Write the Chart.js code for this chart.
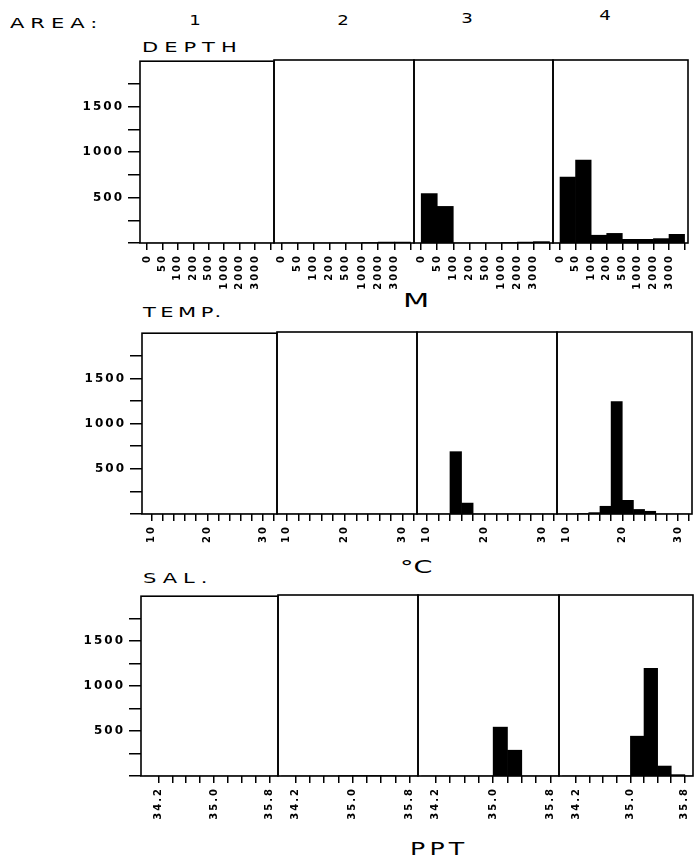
<!DOCTYPE html>
<html>
<head>
<meta charset="utf-8">
<script src="https://cdn.jsdelivr.net/npm/chart.js@4"></script>
<style>
body { margin: 0; background: #fff; }
#wrap { position: relative; width: 695px; height: 857px; overflow: hidden; background: #fff; }
canvas { position: absolute; }
.t { position: absolute; font-family: 'DejaVu Sans'; line-height: 1; white-space: nowrap; color: #000; transform-origin: 0 0; }
</style>
</head>
<body>
<div id="wrap">
  <div class="t" style="left:10px;top:16px;font-size:14px;letter-spacing:4px;transform:scaleX(1.5)">AREA:</div>
  <div class="t" style="left:142px;top:40px;font-size:14px;letter-spacing:4px;transform:scaleX(1.5)">DEPTH</div>
  <div class="t" style="left:143px;top:305px;font-size:14px;letter-spacing:3px;transform:scaleX(1.5)">TEMP.</div>
  <div class="t" style="left:143px;top:571px;font-size:14px;letter-spacing:4px;transform:scaleX(1.5)">SAL.</div>
  <div class="t" style="left:403px;top:291px;font-size:19px;transform:scaleX(1.6)">M</div>
  <div class="t" style="left:400px;top:558px;font-size:18px;transform:scaleX(1.5)">°C</div>
  <div class="t" style="left:410px;top:840px;font-size:18px;letter-spacing:3px;transform:scaleX(1.4)">PPT</div>
</div>
<script>
const areaLabels = ['1', '2', '3', '4'];

// y axis: counts
const yTicks = [0, 250, 500, 750, 1000, 1250, 1500, 1750];
const yTickLabels = ['', '', '500', '', '1000', '', '1500', ''];

// depth (m), bins between the labelled edges
const depthTicks = [0, 1, 2, 3, 4, 5, 6, 7, 8];
const depthTickLabels = ['0', '50', '100', '200', '500', '1000', '2000', '3000', ''];
const depthBinCenters = [0.5, 1.5, 2.5, 3.5, 4.5, 5.5, 6.5, 7.5];
const depthCounts = [
  [0, 0, 0, 0, 0, 0, 0, 0],
  [0, 0, 0, 0, 0, 5, 10, 10],
  [540, 400, 0, 0, 0, 5, 10, 15],
  [720, 905, 85, 105, 40, 40, 48, 95]
];

// temperature (deg C), 2 degree bins from 8 to 32
const tempTicks = [10, 12, 14, 16, 18, 20, 22, 24, 26, 28, 30, 32];
const tempTickLabels = ['10', '', '', '', '', '20', '', '', '', '', '30', ''];
const tempBinCenters = [9, 11, 13, 15, 17, 19, 21, 23, 25, 27, 29, 31];
const tempCounts = [
  [0, 0, 0, 0, 0, 0, 0, 0, 0, 0, 0, 0],
  [0, 0, 0, 0, 0, 0, 0, 0, 0, 0, 0, 0],
  [0, 0, 0, 685, 120, 0, 0, 0, 0, 0, 0, 0],
  [0, 0, 5, 15, 85, 1235, 150, 50, 30, 0, 0, 0]
];

// salinity (ppt), 0.2 bins from 34.0
const salTicks = [34.2, 34.4, 34.6, 34.8, 35.0, 35.2, 35.4, 35.6, 35.8];
const salTickLabels = ['34.2', '', '', '', '35.0', '', '', '', '35.8'];
const salBinCenters = [34.1, 34.3, 34.5, 34.7, 34.9, 35.1, 35.3, 35.5, 35.7, 35.9];
const salCounts = [
  [0, 0, 0, 0, 0, 0, 0, 0, 0, 0],
  [0, 0, 0, 0, 5, 6, 6, 5, 0, 0],
  [0, 0, 0, 0, 0, 540, 285, 0, 0, 0],
  [0, 0, 0, 0, 5, 440, 1190, 110, 15, 0]
];

const rows = [
  { ticks: depthTicks, labels: depthTickLabels, centers: depthBinCenters, counts: depthCounts,
    min: -0.45, max: 8.22, top: 60, bottom: 243, edges: [140, 274, 414, 553, 688] },
  { ticks: tempTicks, labels: tempTickLabels, centers: tempBinCenters, counts: tempCounts,
    min: 8.3, max: 32.5, top: 332, bottom: 514, edges: [142, 277, 417, 557, 692] },
  { ticks: salTicks, labels: salTickLabels, centers: salBinCenters, counts: salCounts,
    min: 33.95, max: 35.92, top: 595, bottom: 776, edges: [141, 278, 418, 559, 693] }
];

const wrap = document.getElementById('wrap');

// area numbers across the top
const areaX = [195, 343, 467, 605];
const areaTop = [13, 13, 11, 8];
areaLabels.forEach((a, i) => {
  const d = document.createElement('div');
  d.className = 't';
  d.textContent = a;
  d.style.cssText = 'left:' + (areaX[i] - 15) + 'px;top:' + areaTop[i] + 'px;width:30px;text-align:center;font-size:14px;transform-origin:50% 0;transform:scaleX(1.3)';
  wrap.appendChild(d);
});

const frame = {
  id: 'frame',
  beforeDraw(chart) {
    chart.ctx.letterSpacing = '2px';
  },
  afterDatasetsDraw(chart) {
    const { ctx, chartArea: a } = chart;
    ctx.save();
    ctx.strokeStyle = '#000';
    ctx.lineWidth = 1.6;
    ctx.strokeRect(a.left, a.top, a.right - a.left, a.bottom - a.top);
    ctx.restore();
  }
};

rows.forEach(row => {
  for (let i = 0; i < 4; i++) {
    const left = row.edges[i];
    const right = row.edges[i + 1];
    const padL = i === 0 ? 70 : 10;
    const padR = 24, padT = 10, axisH = 60;

    const c = document.createElement('canvas');
    c.width = right - left + padL + padR;
    c.height = row.bottom - row.top + padT + axisH;
    c.style.left = (left - padL) + 'px';
    c.style.top = (row.top - padT) + 'px';
    wrap.appendChild(c);

    new Chart(c, {
      type: 'bar',
      data: {
        datasets: [{
          data: row.centers.map((x, k) => ({ x: x, y: row.counts[i][k] })),
          backgroundColor: '#000',
          borderWidth: 0,
          barPercentage: 1,
          categoryPercentage: 1
        }]
      },
      options: {
        responsive: false,
        animation: false,
        devicePixelRatio: 1,
        layout: { padding: { left: i === 0 ? 0 : padL, right: padR, top: padT, bottom: 0 } },
        plugins: { legend: { display: false }, tooltip: { enabled: false } },
        scales: {
          x: {
            type: 'linear',
            min: row.min,
            max: row.max,
            offset: false,
            afterBuildTicks: s => { s.ticks = row.ticks.map(v => ({ value: v })); },
            afterFit: s => { s.height = axisH; },
            border: { display: false },
            grid: { offset: false, drawOnChartArea: false, drawTicks: true, tickLength: 7, color: '#000', lineWidth: 1.5 },
            ticks: {
              autoSkip: false, maxRotation: 90, minRotation: 90, padding: 4, color: '#000',
              font: { family: 'DejaVu Sans', size: 10, weight: 'bold' },
              callback: (v, k) => row.labels[k]
            }
          },
          y: {
            display: i === 0,
            min: 0,
            max: 2000,
            afterBuildTicks: s => { s.ticks = yTicks.map(v => ({ value: v })); },
            afterFit: s => { if (i === 0) s.width = padL; },
            border: { display: false },
            grid: { drawOnChartArea: false, drawTicks: true, tickLength: 12, color: '#000', lineWidth: 1.5 },
            ticks: {
              padding: 4, color: '#000',
              font: { family: 'DejaVu Sans', size: 12, weight: 'bold' },
              callback: (v, k) => yTickLabels[k]
            }
          }
        }
      },
      plugins: [frame]
    });
  }
});
</script>
</body>
</html>
